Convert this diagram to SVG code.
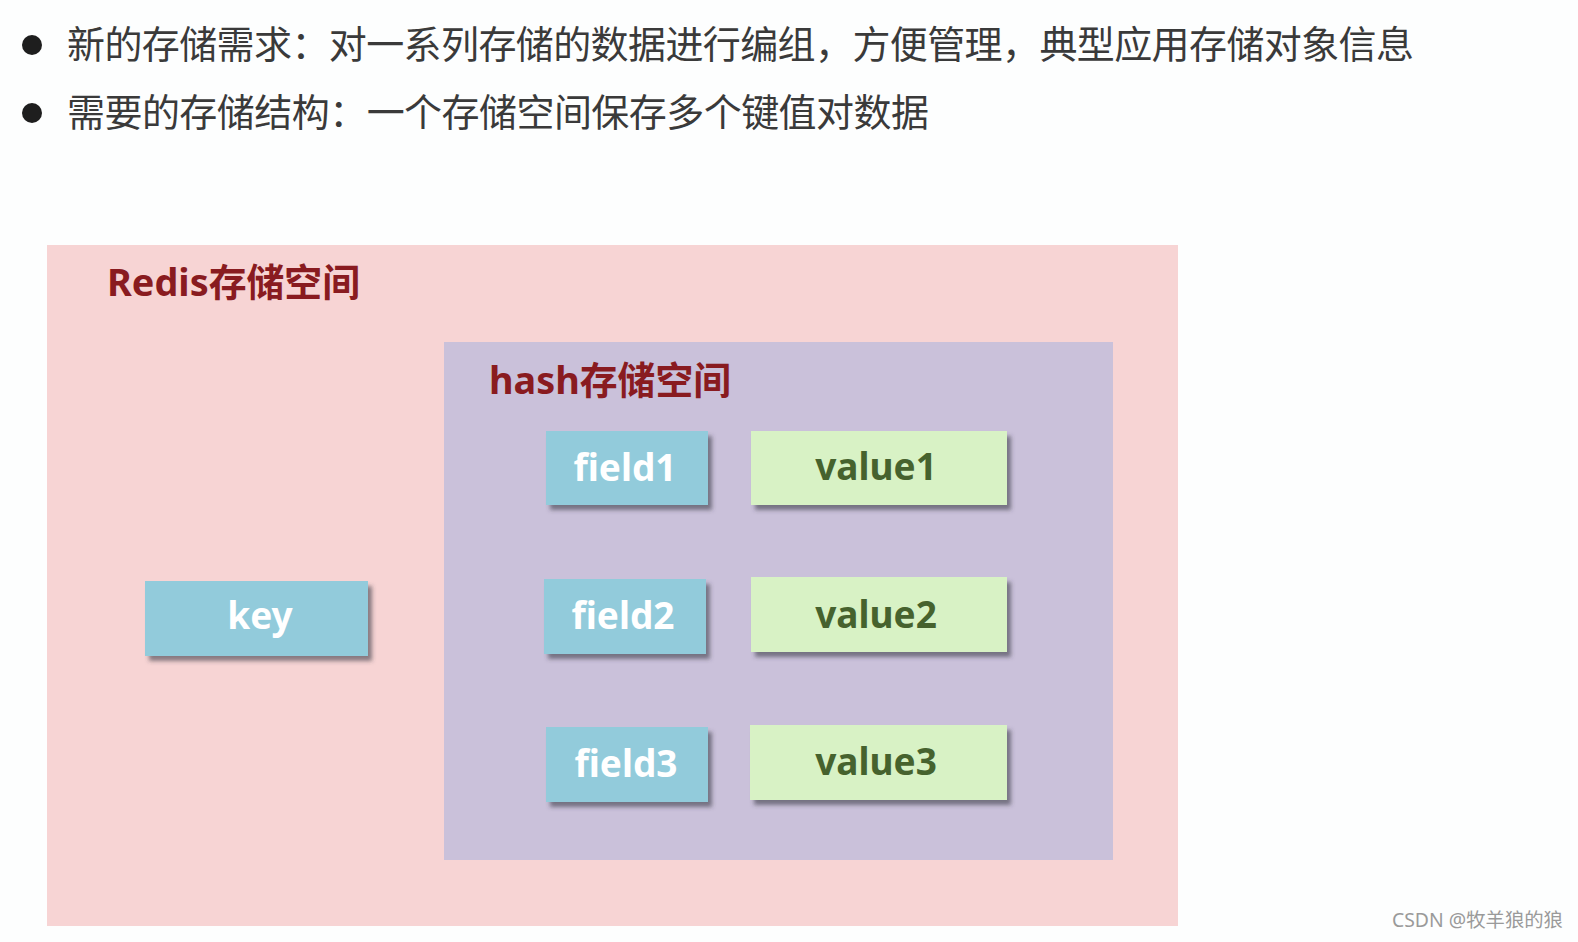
<svg xmlns="http://www.w3.org/2000/svg" width="1578" height="942" viewBox="0 0 1578 942">
  <defs>
    <filter id="sh" x="-10%" y="-20%" width="130%" height="160%">
      <feDropShadow dx="4" dy="5" stdDeviation="2.2" flood-color="#3a3a4a" flood-opacity="0.6"/>
    </filter>
    <style>
      .bullet { font-family: "Noto Sans CJK SC", "Noto Sans", sans-serif; font-size: 38px; fill: #3a3a3a; }
      .title { font-family: "Noto Sans", "Noto Sans CJK SC", sans-serif; font-size: 38px; font-weight: bold; fill: #891b20; }
      .field rect { fill: #92cbdb; filter: url(#sh); }
      .value rect { fill: #d8f2c5; filter: url(#sh); }
      .field text { font-family: "Noto Sans", sans-serif; font-size: 37px; font-weight: bold; fill: #ffffff; text-anchor: middle; }
      .value text { font-family: "Noto Sans", sans-serif; font-size: 37px; font-weight: bold; fill: #46622e; text-anchor: middle; }
      .wm { font-family: "Noto Sans", "Noto Sans CJK SC", sans-serif; font-size: 19px; fill: #9a9a9a; }
    </style>
  </defs>
  <rect width="1578" height="942" fill="#fdfefe"/>

  <g id="bullets">
    <circle cx="32" cy="45" r="10" fill="#1e1e1e"/>
    <text class="bullet" x="67" y="58" textLength="1347" lengthAdjust="spacing">新的存储需求：对一系列存储的数据进行编组，方便管理，典型应用存储对象信息</text>
    <circle cx="32" cy="113" r="10" fill="#1e1e1e"/>
    <text class="bullet" x="67" y="126" textLength="862" lengthAdjust="spacing">需要的存储结构：一个存储空间保存多个键值对数据</text>
  </g>

  <g id="redis-space">
    <rect x="47" y="245" width="1131" height="681" fill="#f7d4d4"/>
    <text class="title" x="107" y="296" textLength="253" lengthAdjust="spacingAndGlyphs">Redis存储空间</text>
  </g>

  <g id="hash-space">
    <rect x="444" y="342" width="669" height="518" fill="#cac1da"/>
    <text class="title" x="489" y="394" textLength="242" lengthAdjust="spacingAndGlyphs">hash存储空间</text>
  </g>

  <g id="key" class="field">
    <rect x="145" y="581" width="223" height="75"/>
    <text x="260" y="629">key</text>
  </g>

  <g id="field1" class="field">
    <rect x="546" y="431" width="162" height="74"/>
    <text x="625" y="481">field1</text>
  </g>
  <g id="value1" class="value">
    <rect x="751" y="431" width="256" height="74"/>
    <text x="876" y="480">value1</text>
  </g>

  <g id="field2" class="field">
    <rect x="544" y="579" width="162" height="75"/>
    <text x="623" y="629">field2</text>
  </g>
  <g id="value2" class="value">
    <rect x="751" y="577" width="256" height="75"/>
    <text x="876" y="628">value2</text>
  </g>

  <g id="field3" class="field">
    <rect x="546" y="727" width="162" height="75"/>
    <text x="626" y="777">field3</text>
  </g>
  <g id="value3" class="value">
    <rect x="750" y="725" width="257" height="75"/>
    <text x="876" y="775">value3</text>
  </g>

  <g id="connectors"></g>

  <text class="wm" x="1392" y="927" textLength="171" lengthAdjust="spacingAndGlyphs">CSDN @牧羊狼的狼</text>
</svg>
